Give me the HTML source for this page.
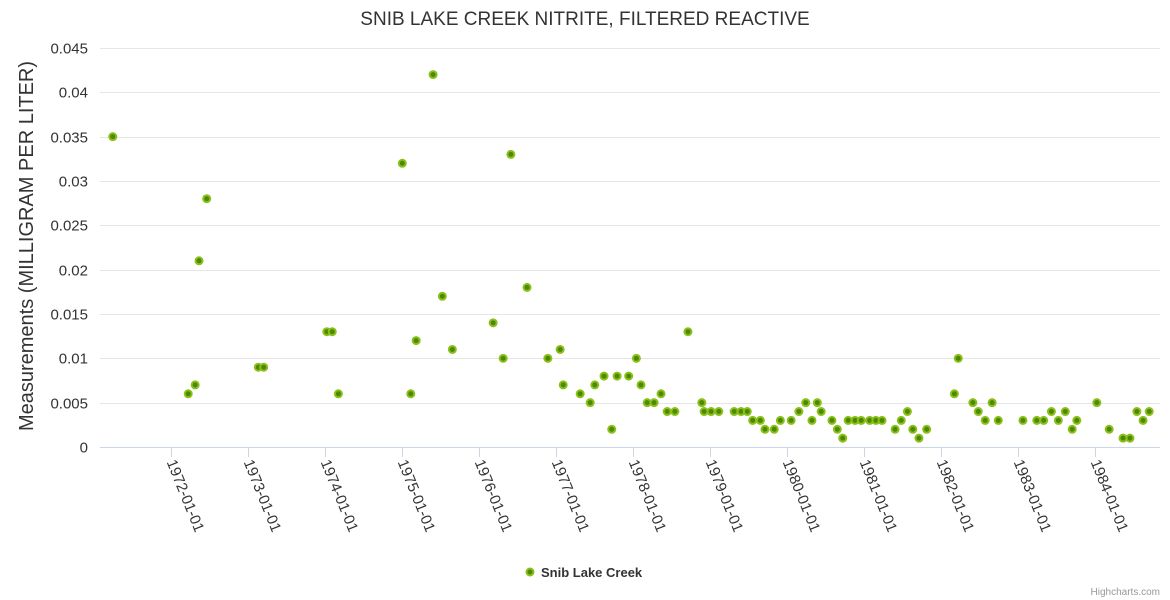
<!DOCTYPE html>
<html><head><meta charset="utf-8"><style>
body{margin:0;background:#fff;}
svg{display:block;font-family:"Liberation Sans",Arial,sans-serif;}
</style></head><body>
<svg id="c" width="1170" height="600">
<text x="585" y="25" text-anchor="middle" font-size="19" fill="#333">SNIB LAKE CREEK NITRITE, FILTERED REACTIVE</text>
<text transform="translate(33,246) rotate(-90)" text-anchor="middle" font-size="20" fill="#333">Measurements (MILLIGRAM PER LITER)</text>
<g id="grid"></g><g id="xaxis"></g><g id="pts"></g>
<g>
<circle cx="530" cy="572" r="3.5" fill="#4a8a00" stroke="#8cbf1a" stroke-width="2"/>
<text x="541" y="577" font-size="13" font-weight="bold" fill="#333">Snib Lake Creek</text></g>
<text x="1160" y="595" text-anchor="end" font-size="10" fill="#999">Highcharts.com</text>
</svg>
<script>
const years=[1971.24,1972.22,1972.31,1972.36,1972.46,1973.13,1973.20,1974.02,1974.09,1974.17,1975.00,1975.11,1975.18,1975.40,1975.52,1975.65,1976.18,1976.31,1976.41,1976.62,1976.89,1977.05,1977.09,1977.31,1977.44,1977.50,1977.62,1977.72,1977.79,1977.94,1978.04,1978.10,1978.18,1978.27,1978.36,1978.44,1978.54,1978.71,1978.89,1978.92,1979.01,1979.11,1979.31,1979.40,1979.48,1979.55,1979.65,1979.71,1979.83,1979.91,1980.05,1980.15,1980.24,1980.32,1980.39,1980.44,1980.58,1980.65,1980.72,1980.79,1980.88,1980.96,1981.07,1981.15,1981.23,1981.40,1981.48,1981.56,1981.63,1981.71,1981.81,1982.17,1982.22,1982.41,1982.48,1982.57,1982.66,1982.74,1983.06,1983.24,1983.33,1983.43,1983.52,1983.61,1983.70,1983.76,1984.02,1984.18,1984.36,1984.45,1984.54,1984.62,1984.70];
const values=[0.035,0.006,0.007,0.021,0.028,0.009,0.009,0.013,0.013,0.006,0.032,0.006,0.012,0.042,0.017,0.011,0.014,0.010,0.033,0.018,0.010,0.011,0.007,0.006,0.005,0.007,0.008,0.002,0.008,0.008,0.010,0.007,0.005,0.005,0.006,0.004,0.004,0.013,0.005,0.004,0.004,0.004,0.004,0.004,0.004,0.003,0.003,0.002,0.002,0.003,0.003,0.004,0.005,0.003,0.005,0.004,0.003,0.002,0.001,0.003,0.003,0.003,0.003,0.003,0.003,0.002,0.003,0.004,0.002,0.001,0.002,0.006,0.010,0.005,0.004,0.003,0.005,0.003,0.003,0.003,0.003,0.004,0.003,0.004,0.002,0.003,0.005,0.002,0.001,0.001,0.004,0.003,0.004];
const yTicks=[0,0.005,0.01,0.015,0.02,0.025,0.03,0.035,0.04,0.045];
const yTickLabels=["0","0.005","0.01","0.015","0.02","0.025","0.03","0.035","0.04","0.045"];
const xTicks=[1972,1973,1974,1975,1976,1977,1978,1979,1980,1981,1982,1983,1984];
const NS="http://www.w3.org/2000/svg";
const xs=y=>556.3+(y-1977)*77;
const ys=v=>447-v/0.045*399;
function mk(tag,attrs,parent,txt){const e=document.createElementNS(NS,tag);for(const k in attrs)e.setAttribute(k,attrs[k]);if(txt!==undefined)e.textContent=txt;parent.appendChild(e);return e;}
const grid=document.getElementById('grid'),xa=document.getElementById('xaxis'),pts=document.getElementById('pts');
yTicks.forEach((t,i)=>{
 const y=Math.round(ys(t))+0.5;
 if(i>0){const l=mk('line',{x1:100,x2:1160,y1:y,y2:y,stroke:'#e6e6e6'},grid);
 
 }
 const tx=mk('text',{x:88,y:y+5,'text-anchor':'end','font-size':15,fill:'#333'},grid,yTickLabels[i]);
 
 
});
const ax=mk('line',{x1:100,x2:1160,y1:447.5,y2:447.5,stroke:'#ccd6eb'},xa);


xTicks.forEach(t=>{
 const x=Math.round(xs(t))+0.5;
 const tk=mk('line',{x1:x,x2:x,y1:447,y2:457,stroke:'#ccd6eb'},xa);
 
 
 const tx=mk('text',{transform:`translate(${x-5},462) rotate(68)`,'font-size':15,fill:'#333'},xa,t+'-01-01');
 
 
});
years.forEach((yr,i)=>{
 const c=mk('circle',{cx:xs(yr),cy:ys(values[i]),r:3.5,fill:'#4a8a00',stroke:'#8cbf1a','stroke-width':2},pts);
 
 
});
</script>
</body></html>
